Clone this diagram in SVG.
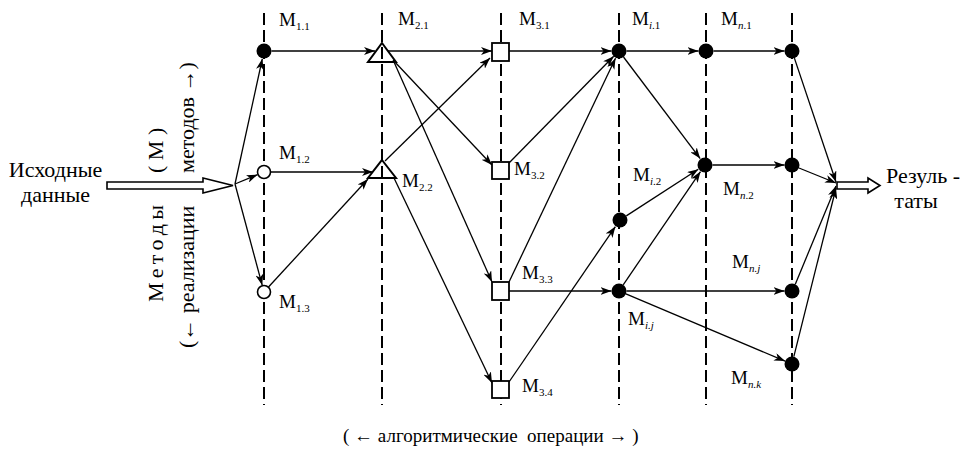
<svg xmlns="http://www.w3.org/2000/svg" width="965" height="455" viewBox="0 0 965 455" font-family="'Liberation Serif', 'Times New Roman', serif">
<style>
text{font-family:'Liberation Serif','Times New Roman',serif;fill:#000}
.lbl{font-size:19px}
.sub{font-size:11px}
.it{font-style:italic}
.big{font-size:22px}
.vt{font-size:22px}
.dash{stroke:#000;stroke-width:2;stroke-dasharray:12 5;fill:none}
.edge{stroke:#000;stroke-width:1.3;fill:none;marker-end:url(#ah)}
.dot{fill:#000}
.open{fill:#fff;stroke:#000;stroke-width:1.6}
.tri{fill:none;stroke:#000;stroke-width:2}
.sq{fill:#fff;stroke:#000;stroke-width:1.8}
.hollow{fill:#fff;stroke:#000;stroke-width:1.6;stroke-linejoin:miter}
</style>
<defs>
<marker id="ah" markerUnits="userSpaceOnUse" markerWidth="11" markerHeight="8" refX="11" refY="4" orient="auto" viewBox="0 0 11 8">
<path d="M0,0 L11,4 L0,8 L3,4 z" fill="#000"/>
</marker>
</defs>
<rect width="965" height="455" fill="#fff"/>
<g id="columns">
<line class="dash" x1="264" y1="13" x2="264" y2="405"/>
<line class="dash" x1="382" y1="13" x2="382" y2="405"/>
<line class="dash" x1="501" y1="13" x2="501" y2="405"/>
<line class="dash" x1="619" y1="13" x2="619" y2="405"/>
<line class="dash" x1="706" y1="13" x2="706" y2="405"/>
<line class="dash" x1="792" y1="13" x2="792" y2="405"/>
</g>
<g id="input">
<polygon class="hollow" points="107,182 203,182 203,178 233,185.5 203,193 203,189 107,189"/>
<text class="big" x="55.5" y="177" text-anchor="middle">Исходные</text>
<text class="big" x="55.5" y="202" text-anchor="middle">данные</text>
</g>
<g id="output">
<polygon class="hollow" points="837,182 868,182 868,178 880,185.5 868,193 868,189 837,189"/>
<text class="big" x="886" y="183">Резуль -</text>
<text class="big" x="916" y="208" text-anchor="middle">таты</text>
</g>
<g id="axis-methods">
<text class="vt" transform="translate(163,302) rotate(-90)" textLength="97" lengthAdjust="spacing">М е т о д ы</text>
<text class="vt" transform="translate(163,173) rotate(-90)">( М )</text>
<text class="vt" transform="translate(194,348) rotate(-90)">(← реализации</text>
<text class="vt" transform="translate(194,173) rotate(-90)">методов →)</text>
</g>
<g id="axis-operations">
<text x="343" y="442" style="font-size:19px" xml:space="preserve">( ← алгоритмические  операции → )</text>
</g>
<g id="connectors">
<line class="edge" x1="235" y1="184" x2="262.3" y2="58.8"/>
<line class="edge" x1="235" y1="184" x2="257.5" y2="174.7"/>
<line class="edge" x1="235" y1="184" x2="262.2" y2="285.2"/>
<line class="edge" x1="271.5" y1="51" x2="375" y2="51"/>
<line class="edge" x1="270.5" y1="172" x2="373" y2="172"/>
<line class="edge" x1="268.5" y1="287" x2="368" y2="179"/>
<line class="edge" x1="388" y1="51" x2="492" y2="51"/>
<line class="edge" x1="393" y1="60" x2="492" y2="165"/>
<line class="edge" x1="394" y1="62" x2="492" y2="282"/>
<line class="edge" x1="385" y1="161" x2="490" y2="58"/>
<line class="edge" x1="394" y1="178" x2="492" y2="383"/>
<line class="edge" x1="509" y1="51" x2="611.5" y2="51"/>
<line class="edge" x1="509" y1="163" x2="613.7" y2="56.3"/>
<line class="edge" x1="509" y1="282" x2="615.5" y2="58.2"/>
<line class="edge" x1="509" y1="291" x2="611.5" y2="291"/>
<line class="edge" x1="509" y1="382" x2="615.4" y2="226.6"/>
<line class="edge" x1="626.5" y1="51" x2="698.5" y2="51"/>
<line class="edge" x1="623.5" y1="57" x2="700.2" y2="158.6"/>
<line class="edge" x1="626.3" y1="215.9" x2="698.3" y2="169.3"/>
<line class="edge" x1="623.2" y1="284.8" x2="700.5" y2="171.6"/>
<line class="edge" x1="626.5" y1="291" x2="784.5" y2="291"/>
<line class="edge" x1="625.9" y1="293.9" x2="785.1" y2="361.1"/>
<line class="edge" x1="713.5" y1="51" x2="784.5" y2="51"/>
<line class="edge" x1="712.5" y1="165" x2="784.5" y2="165"/>
<line class="edge" x1="794.4" y1="58.1" x2="836" y2="182"/>
<line class="edge" x1="799" y1="168" x2="836" y2="183"/>
<line class="edge" x1="795.3" y1="284.2" x2="836" y2="186"/>
<line class="edge" x1="793.8" y1="356.7" x2="836" y2="188"/>
</g>
<g id="M1_1"><circle class="dot" cx="264" cy="51" r="7.5"/><text class="lbl" x="279" y="26">M<tspan class="sub" dy="4">1.1</tspan></text></g>
<g id="M1_2"><circle class="open" cx="264" cy="172" r="6.5"/><text class="lbl" x="279" y="159">M<tspan class="sub" dy="4">1.2</tspan></text></g>
<g id="M1_3"><circle class="open" cx="264" cy="292" r="6.5"/><text class="lbl" x="279" y="308">M<tspan class="sub" dy="4">1.3</tspan></text></g>
<g id="M2_1"><polygon class="tri" points="382,43 396,62 368,62"/><text class="lbl" x="398" y="25">M<tspan class="sub" dy="4">2.1</tspan></text></g>
<g id="M2_2"><polygon class="tri" points="382,160 396,178 368,178"/><text class="lbl" x="402" y="187">M<tspan class="sub" dy="4">2.2</tspan></text></g>
<g id="M3_1"><rect class="sq" x="492" y="43" width="17" height="18"/><text class="lbl" x="519" y="25">M<tspan class="sub" dy="4">3.1</tspan></text></g>
<g id="M3_2"><rect class="sq" x="492" y="162" width="17" height="17"/><text class="lbl" x="514" y="175">M<tspan class="sub" dy="4">3.2</tspan></text></g>
<g id="M3_3"><rect class="sq" x="492" y="282" width="17" height="18"/><text class="lbl" x="522" y="279">M<tspan class="sub" dy="4">3.3</tspan></text></g>
<g id="M3_4"><rect class="sq" x="492" y="381" width="17" height="17"/><text class="lbl" x="522" y="392">M<tspan class="sub" dy="4">3.4</tspan></text></g>
<g id="Mi_1"><circle class="dot" cx="619" cy="51" r="7.5"/><text class="lbl" x="632" y="25">M<tspan class="sub" dy="4"><tspan class="it">i</tspan>.1</tspan></text></g>
<g id="Mi_2"><circle class="dot" cx="620" cy="220" r="7.5"/><text class="lbl" x="633" y="181">M<tspan class="sub" dy="4"><tspan class="it">i</tspan>.2</tspan></text></g>
<g id="Mi_j"><circle class="dot" cx="619" cy="291" r="7.5"/><text class="lbl" x="628" y="325">M<tspan class="sub it" dy="4">i.j</tspan></text></g>
<g id="Mn_1"><circle class="dot" cx="706" cy="51" r="7.5"/><text class="lbl" x="721" y="25">M<tspan class="sub" dy="4"><tspan class="it">n</tspan>.1</tspan></text></g>
<g id="Mn_2"><circle class="dot" cx="705" cy="165" r="7.5"/><text class="lbl" x="723" y="195">M<tspan class="sub" dy="4"><tspan class="it">n</tspan>.2</tspan></text></g>
<g id="Mn_1b"><circle class="dot" cx="792" cy="51" r="7.5"/></g>
<g id="Mn_2b"><circle class="dot" cx="792" cy="165" r="7.5"/></g>
<g id="Mn_j"><circle class="dot" cx="792" cy="291" r="7.5"/><text class="lbl" x="732" y="268">M<tspan class="sub it" dy="4">n.j</tspan></text></g>
<g id="Mn_k"><circle class="dot" cx="792" cy="364" r="7.5"/><text class="lbl" x="731" y="384">M<tspan class="sub it" dy="4">n.k</tspan></text></g>
</svg>
